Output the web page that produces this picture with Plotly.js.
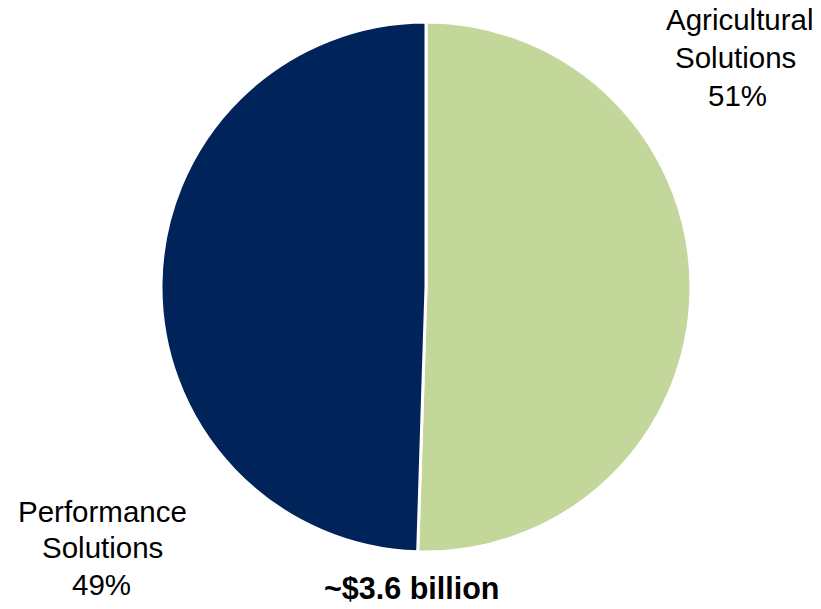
<!DOCTYPE html>
<html>
<head>
<meta charset="utf-8">
<script src="https://cdn.plot.ly/plotly-3.0.1.min.js"></script>
<style>html,body{margin:0;padding:0;background:#fff;}#chart{width:821px;height:609px;}</style>
</head>
<body>
<div id="chart"></div>
<script>
// Data
const segments = ["Agricultural Solutions", "Performance Solutions"];
const shares = [50.5, 49.5];
const shareLabels = ["51%", "49%"];
const segmentColors = ["#C4D79B", "#00235A"];
const totalLabel = "~$3.6 billion";

const W = 821, H = 609;
const cx = 426, cy = 287, r = 265;

const trace = {
  type: "pie",
  labels: segments,
  values: shares,
  sort: false,
  direction: "clockwise",
  rotation: 0,
  marker: { colors: segmentColors, line: { color: "#ffffff", width: 3 } },
  textinfo: "none",
  hoverinfo: "label+percent",
  showlegend: false,
  domain: {
    x: [(cx - r) / W, (cx + r) / W],
    y: [(H - cy - r) / H, (H - cy + r) / H]
  }
};

function lineAnn(text, x, baselineY, size, bold) {
  const mid = baselineY - size * 0.34;
  return {
    text: bold ? "<b>" + text + "</b>" : text,
    x: x / W, y: 1 - mid / H,
    xref: "paper", yref: "paper",
    xanchor: "center", yanchor: "middle",
    showarrow: false,
    font: { family: "Liberation Sans, Arial, sans-serif", size: size, color: "#000000" }
  };
}

const agWords = segments[0].split(" ");
const pfWords = segments[1].split(" ");

const annotations = [
  lineAnn(agWords[0], 740, 30, 29.5),
  lineAnn(agWords[1], 735, 68, 29.5),
  lineAnn(shareLabels[0], 737, 106, 29.5),
  lineAnn(pfWords[0], 102, 522, 29.5),
  lineAnn(pfWords[1], 102, 558, 29.5),
  lineAnn(shareLabels[1], 101, 595, 29.5),
  lineAnn(totalLabel, 411, 598, 30.5, true)
];

const layout = {
  width: W, height: H,
  margin: { l: 0, r: 0, t: 0, b: 0 },
  paper_bgcolor: "#ffffff",
  plot_bgcolor: "#ffffff",
  annotations: annotations
};

Plotly.newPlot("chart", [trace], layout, { displayModeBar: false, staticPlot: true });
</script>
</body>
</html>
